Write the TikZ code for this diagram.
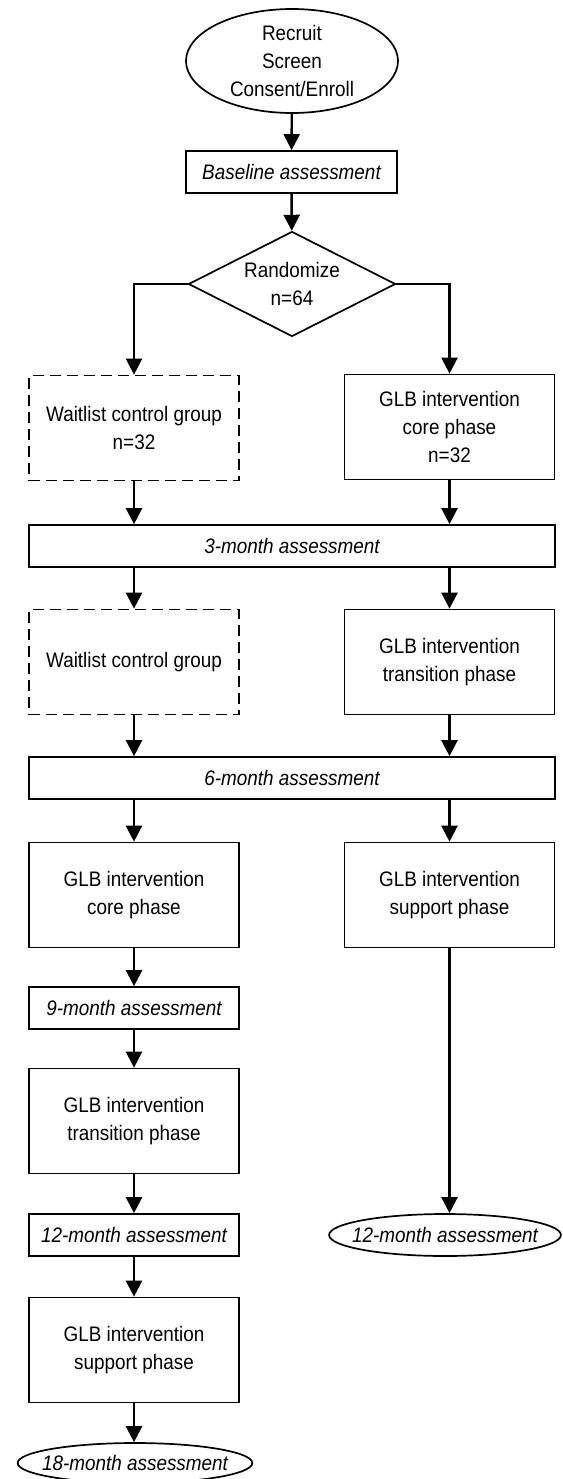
\documentclass[tikz,border=0pt]{standalone}
\usepackage{fontspec}
\setmainfont{Liberation Sans}[FakeStretch=0.9]
\usetikzlibrary{shapes.geometric,arrows.meta}
\tikzset{
	box/.style={draw, line width=1.7pt, minimum width=210pt, minimum height=105pt, align=center, inner sep=2pt},
	waitbox/.style={box, dash pattern=on 11pt off 6pt},
	assess/.style={draw, line width=1.7pt, minimum height=42pt, font=\itshape},
	oval/.style={draw, ellipse, line width=1.7pt, align=center, inner sep=0pt},
	arr/.style={-{Triangle[width=16pt,length=16pt]}, line width=2.4pt, every edge/.append style={line width=2.4pt}}
}
\begin{document}
\fontsize{21}{28}\selectfont
\begin{tikzpicture}[x=1pt,y=-1pt,color=black]
	\useasboundingbox (0,0) rectangle (562,1479);
	\node[oval, minimum width=212pt, minimum height=104pt] (recruit) at (292,61) {Recruit\\Screen\\Consent/Enroll};
	\node[assess, minimum width=211pt] (base) at (291.5,172) {Baseline assessment};
	\node[draw, diamond, line width=1.7pt, aspect=2, inner sep=0pt, minimum width=207pt, minimum height=105pt, align=center] (rand) at (292,284) {Randomize\\n=64};
	\node[waitbox] (wait1) at (134,428) {Waitlist control group\\n=32};
	\node[box] (core1) at (449.5,427) {GLB intervention\\core phase\\n=32};
	\node[assess, minimum width=526pt] (m3) at (292,546) {3-month assessment};
	\node[waitbox] (wait2) at (134,662) {Waitlist control group};
	\node[box] (trans1) at (449.5,662) {GLB intervention\\transition phase};
	\node[assess, minimum width=526pt] (m6) at (292,778) {6-month assessment};
	\node[box] (core2) at (134,895) {GLB intervention\\core phase};
	\node[box] (supp1) at (449.5,895) {GLB intervention\\support phase};
	\node[assess, minimum width=210pt] (m9) at (134,1008) {9-month assessment};
	\node[box] (trans2) at (134,1121) {GLB intervention\\transition phase};
	\node[assess, minimum width=210pt] (m12a) at (134,1235) {12-month assessment};
	\node[box] (supp2) at (134,1350) {GLB intervention\\support phase};
	\node[oval, font=\itshape, inner xsep=-10pt, minimum height=40pt] (m18) at (135,1463) {18-month assessment};
	\node[oval, font=\itshape, inner xsep=-11pt, minimum height=42pt] (m12b) at (445,1235) {12-month assessment};
	\path[arr]
	(recruit) edge (base)
	(base) edge (rand)
	(wait1.south) edge (wait1.south |- m3.north)
	(core1.south) edge (core1.south |- m3.north)
	(m3.south -| wait2) edge (wait2.north)
	(m3.south -| trans1) edge (trans1.north)
	(wait2.south) edge (wait2.south |- m6.north)
	(trans1.south) edge (trans1.south |- m6.north)
	(m6.south -| core2) edge (core2.north)
	(m6.south -| supp1) edge (supp1.north)
	(core2) edge (m9)
	(m9) edge (trans2)
	(trans2) edge (m12a)
	(m12a) edge (supp2)
	(supp2) edge (supp2.south |- m18.north)
	(supp1.south) edge (supp1.south |- m12b.north);
	\draw[arr] (rand.west) -| (wait1.north);
	\draw[arr] (rand.east) -| (core1.north);
\end{tikzpicture}
\end{document}
